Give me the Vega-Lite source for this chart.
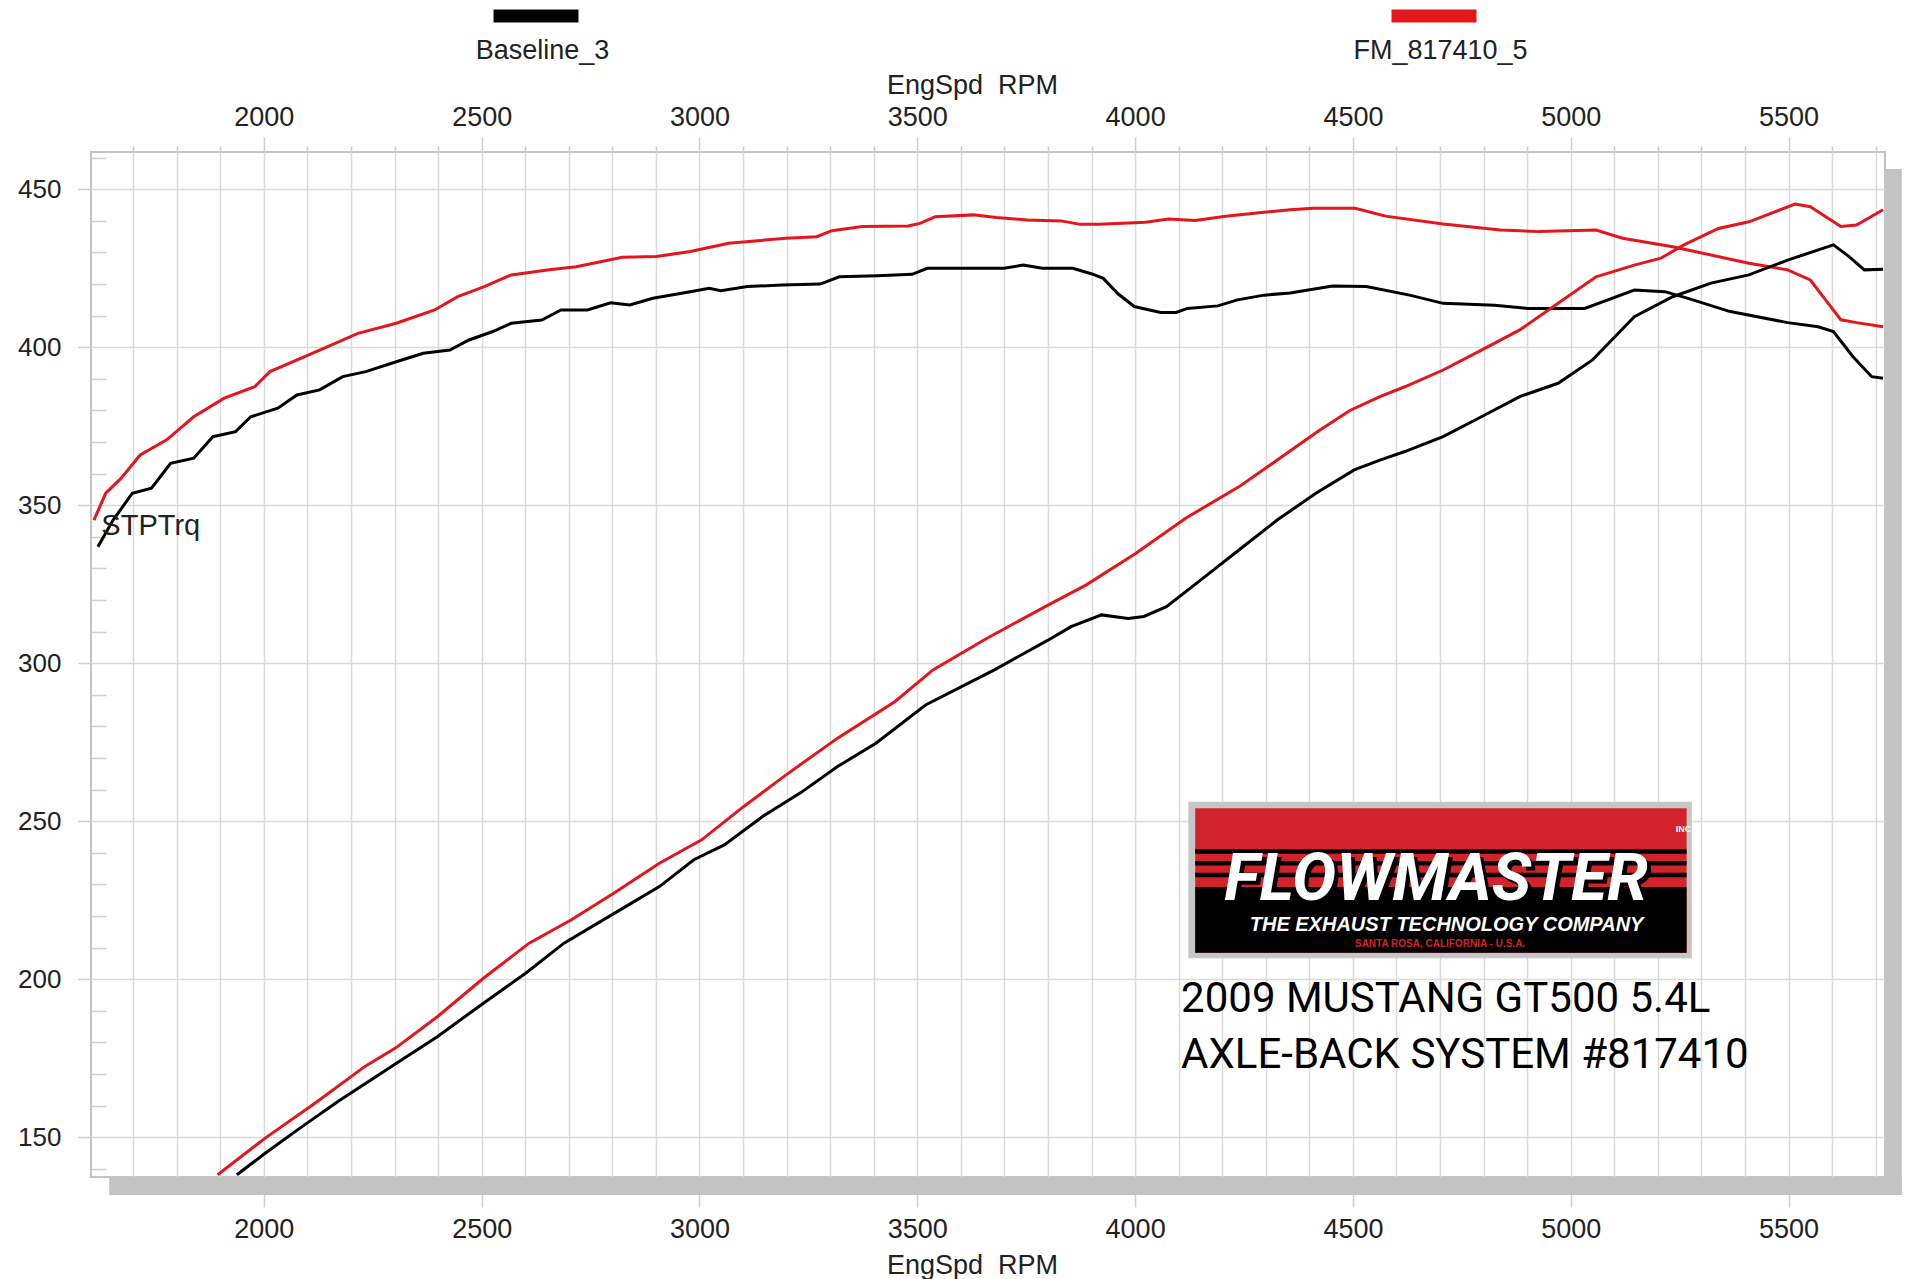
{
"$schema": "https://vega.github.io/schema/vega-lite/v6.json",
"width": 1794, "height": 1025,
"autosize": {"type": "none"},
"padding": {"left": 91, "top": 152, "right": 20, "bottom": 102},
"background": "white",
"config": {
 "view": {"stroke": "#c4c4c4", "strokeWidth": 2},
 "font": "Liberation Sans",
 "axis": {"labelFont": "Liberation Sans", "titleFont": "Liberation Sans", "labelColor": "#222222", "titleColor": "#222222", "titleFontWeight": "normal", "domain": false, "gridColor": "#dadada", "gridWidth": 1.5, "tickColor": "#cfcfcf", "tickWidth": 1.5}
},
"datasets": {
 "dyno": [
{"run":"Baseline_3","curve":"Torque","rpm":1619,"value":336.9},{"run":"Baseline_3","curve":"Torque","rpm":1654,"value":345.3},{"run":"Baseline_3","curve":"Torque","rpm":1698,"value":353.8},{"run":"Baseline_3","curve":"Torque","rpm":1742,"value":355.4},{"run":"Baseline_3","curve":"Torque","rpm":1786,"value":363.3},{"run":"Baseline_3","curve":"Torque","rpm":1839,"value":364.9},{"run":"Baseline_3","curve":"Torque","rpm":1883,"value":371.7},{"run":"Baseline_3","curve":"Torque","rpm":1935,"value":373.3},{"run":"Baseline_3","curve":"Torque","rpm":1970,"value":378},{"run":"Baseline_3","curve":"Torque","rpm":2032,"value":380.7},{"run":"Baseline_3","curve":"Torque","rpm":2076,"value":384.9},{"run":"Baseline_3","curve":"Torque","rpm":2128,"value":386.5},{"run":"Baseline_3","curve":"Torque","rpm":2181,"value":390.7},{"run":"Baseline_3","curve":"Torque","rpm":2234,"value":392.3},{"run":"Baseline_3","curve":"Torque","rpm":2304,"value":395.4},{"run":"Baseline_3","curve":"Torque","rpm":2366,"value":398.1},{"run":"Baseline_3","curve":"Torque","rpm":2427,"value":399.1},{"run":"Baseline_3","curve":"Torque","rpm":2471,"value":402.3},{"run":"Baseline_3","curve":"Torque","rpm":2524,"value":404.9},{"run":"Baseline_3","curve":"Torque","rpm":2568,"value":407.6},{"run":"Baseline_3","curve":"Torque","rpm":2638,"value":408.6},{"run":"Baseline_3","curve":"Torque","rpm":2682,"value":411.8},{"run":"Baseline_3","curve":"Torque","rpm":2743,"value":411.8},{"run":"Baseline_3","curve":"Torque","rpm":2796,"value":414.1},{"run":"Baseline_3","curve":"Torque","rpm":2840,"value":413.4},{"run":"Baseline_3","curve":"Torque","rpm":2893,"value":415.5},{"run":"Baseline_3","curve":"Torque","rpm":2979,"value":417.6},{"run":"Baseline_3","curve":"Torque","rpm":3022,"value":418.7},{"run":"Baseline_3","curve":"Torque","rpm":3049,"value":417.9},{"run":"Baseline_3","curve":"Torque","rpm":3110,"value":419.2},{"run":"Baseline_3","curve":"Torque","rpm":3189,"value":419.7},{"run":"Baseline_3","curve":"Torque","rpm":3277,"value":420},{"run":"Baseline_3","curve":"Torque","rpm":3321,"value":422.3},{"run":"Baseline_3","curve":"Torque","rpm":3409,"value":422.6},{"run":"Baseline_3","curve":"Torque","rpm":3488,"value":423.1},{"run":"Baseline_3","curve":"Torque","rpm":3523,"value":425},{"run":"Baseline_3","curve":"Torque","rpm":3699,"value":425},{"run":"Baseline_3","curve":"Torque","rpm":3743,"value":426},{"run":"Baseline_3","curve":"Torque","rpm":3787,"value":425},{"run":"Baseline_3","curve":"Torque","rpm":3857,"value":425},{"run":"Baseline_3","curve":"Torque","rpm":3901,"value":423.2},{"run":"Baseline_3","curve":"Torque","rpm":3927,"value":421.8},{"run":"Baseline_3","curve":"Torque","rpm":3960,"value":417},{"run":"Baseline_3","curve":"Torque","rpm":3998,"value":412.9},{"run":"Baseline_3","curve":"Torque","rpm":4033,"value":411.8},{"run":"Baseline_3","curve":"Torque","rpm":4059,"value":411},{"run":"Baseline_3","curve":"Torque","rpm":4094,"value":411},{"run":"Baseline_3","curve":"Torque","rpm":4120,"value":412.3},{"run":"Baseline_3","curve":"Torque","rpm":4190,"value":413.1},{"run":"Baseline_3","curve":"Torque","rpm":4235,"value":415},{"run":"Baseline_3","curve":"Torque","rpm":4296,"value":416.5},{"run":"Baseline_3","curve":"Torque","rpm":4356,"value":417.2},{"run":"Baseline_3","curve":"Torque","rpm":4453,"value":419.4},{"run":"Baseline_3","curve":"Torque","rpm":4531,"value":419.2},{"run":"Baseline_3","curve":"Torque","rpm":4630,"value":416.5},{"run":"Baseline_3","curve":"Torque","rpm":4707,"value":413.9},{"run":"Baseline_3","curve":"Torque","rpm":4825,"value":413.3},{"run":"Baseline_3","curve":"Torque","rpm":4900,"value":412.3},{"run":"Baseline_3","curve":"Torque","rpm":5032,"value":412.3},{"run":"Baseline_3","curve":"Torque","rpm":5076,"value":414.5},{"run":"Baseline_3","curve":"Torque","rpm":5146,"value":418.1},{"run":"Baseline_3","curve":"Torque","rpm":5216,"value":417.6},{"run":"Baseline_3","curve":"Torque","rpm":5271,"value":415.4},{"run":"Baseline_3","curve":"Torque","rpm":5366,"value":411.3},{"run":"Baseline_3","curve":"Torque","rpm":5498,"value":407.8},{"run":"Baseline_3","curve":"Torque","rpm":5568,"value":406.5},{"run":"Baseline_3","curve":"Torque","rpm":5603,"value":405},{"run":"Baseline_3","curve":"Torque","rpm":5648,"value":397},{"run":"Baseline_3","curve":"Torque","rpm":5691,"value":390.7},{"run":"Baseline_3","curve":"Torque","rpm":5717,"value":390.2},
{"run":"FM_817410_5","curve":"Torque","rpm":1610,"value":345.3},{"run":"FM_817410_5","curve":"Torque","rpm":1637,"value":353.8},{"run":"FM_817410_5","curve":"Torque","rpm":1672,"value":358.5},{"run":"FM_817410_5","curve":"Torque","rpm":1716,"value":365.9},{"run":"FM_817410_5","curve":"Torque","rpm":1777,"value":370.7},{"run":"FM_817410_5","curve":"Torque","rpm":1839,"value":378},{"run":"FM_817410_5","curve":"Torque","rpm":1909,"value":383.9},{"run":"FM_817410_5","curve":"Torque","rpm":1979,"value":387.5},{"run":"FM_817410_5","curve":"Torque","rpm":2014,"value":392.3},{"run":"FM_817410_5","curve":"Torque","rpm":2111,"value":398.1},{"run":"FM_817410_5","curve":"Torque","rpm":2216,"value":404.4},{"run":"FM_817410_5","curve":"Torque","rpm":2304,"value":407.6},{"run":"FM_817410_5","curve":"Torque","rpm":2392,"value":411.8},{"run":"FM_817410_5","curve":"Torque","rpm":2445,"value":416},{"run":"FM_817410_5","curve":"Torque","rpm":2506,"value":419.2},{"run":"FM_817410_5","curve":"Torque","rpm":2568,"value":422.9},{"run":"FM_817410_5","curve":"Torque","rpm":2655,"value":424.5},{"run":"FM_817410_5","curve":"Torque","rpm":2717,"value":425.5},{"run":"FM_817410_5","curve":"Torque","rpm":2823,"value":428.5},{"run":"FM_817410_5","curve":"Torque","rpm":2901,"value":428.7},{"run":"FM_817410_5","curve":"Torque","rpm":2979,"value":430.3},{"run":"FM_817410_5","curve":"Torque","rpm":3067,"value":432.9},{"run":"FM_817410_5","curve":"Torque","rpm":3198,"value":434.5},{"run":"FM_817410_5","curve":"Torque","rpm":3269,"value":435},{"run":"FM_817410_5","curve":"Torque","rpm":3304,"value":436.9},{"run":"FM_817410_5","curve":"Torque","rpm":3374,"value":438.2},{"run":"FM_817410_5","curve":"Torque","rpm":3479,"value":438.4},{"run":"FM_817410_5","curve":"Torque","rpm":3506,"value":439.2},{"run":"FM_817410_5","curve":"Torque","rpm":3541,"value":441.3},{"run":"FM_817410_5","curve":"Torque","rpm":3629,"value":441.9},{"run":"FM_817410_5","curve":"Torque","rpm":3681,"value":441.1},{"run":"FM_817410_5","curve":"Torque","rpm":3752,"value":440.3},{"run":"FM_817410_5","curve":"Torque","rpm":3830,"value":440},{"run":"FM_817410_5","curve":"Torque","rpm":3874,"value":438.9},{"run":"FM_817410_5","curve":"Torque","rpm":3918,"value":438.9},{"run":"FM_817410_5","curve":"Torque","rpm":4024,"value":439.6},{"run":"FM_817410_5","curve":"Torque","rpm":4077,"value":440.6},{"run":"FM_817410_5","curve":"Torque","rpm":4138,"value":440.1},{"run":"FM_817410_5","curve":"Torque","rpm":4208,"value":441.5},{"run":"FM_817410_5","curve":"Torque","rpm":4296,"value":442.7},{"run":"FM_817410_5","curve":"Torque","rpm":4356,"value":443.5},{"run":"FM_817410_5","curve":"Torque","rpm":4408,"value":444},{"run":"FM_817410_5","curve":"Torque","rpm":4505,"value":444},{"run":"FM_817410_5","curve":"Torque","rpm":4575,"value":441.5},{"run":"FM_817410_5","curve":"Torque","rpm":4707,"value":439},{"run":"FM_817410_5","curve":"Torque","rpm":4839,"value":437.1},{"run":"FM_817410_5","curve":"Torque","rpm":4927,"value":436.6},{"run":"FM_817410_5","curve":"Torque","rpm":5058,"value":437.1},{"run":"FM_817410_5","curve":"Torque","rpm":5119,"value":434.5},{"run":"FM_817410_5","curve":"Torque","rpm":5234,"value":431.8},{"run":"FM_817410_5","curve":"Torque","rpm":5322,"value":429.2},{"run":"FM_817410_5","curve":"Torque","rpm":5409,"value":426.6},{"run":"FM_817410_5","curve":"Torque","rpm":5498,"value":424.5},{"run":"FM_817410_5","curve":"Torque","rpm":5550,"value":421.3},{"run":"FM_817410_5","curve":"Torque","rpm":5585,"value":415},{"run":"FM_817410_5","curve":"Torque","rpm":5620,"value":408.7},{"run":"FM_817410_5","curve":"Torque","rpm":5656,"value":407.8},{"run":"FM_817410_5","curve":"Torque","rpm":5717,"value":406.5},
{"run":"FM_817410_5","curve":"Power","rpm":1894,"value":138.1},{"run":"FM_817410_5","curve":"Power","rpm":2003,"value":149.7},{"run":"FM_817410_5","curve":"Power","rpm":2118,"value":160.8},{"run":"FM_817410_5","curve":"Power","rpm":2232,"value":172.4},{"run":"FM_817410_5","curve":"Power","rpm":2302,"value":178.2},{"run":"FM_817410_5","curve":"Power","rpm":2399,"value":188.2},{"run":"FM_817410_5","curve":"Power","rpm":2504,"value":200.3},{"run":"FM_817410_5","curve":"Power","rpm":2609,"value":211.4},{"run":"FM_817410_5","curve":"Power","rpm":2706,"value":218.8},{"run":"FM_817410_5","curve":"Power","rpm":2803,"value":227.2},{"run":"FM_817410_5","curve":"Power","rpm":2908,"value":236.7},{"run":"FM_817410_5","curve":"Power","rpm":3005,"value":244.1},{"run":"FM_817410_5","curve":"Power","rpm":3101,"value":254.6},{"run":"FM_817410_5","curve":"Power","rpm":3198,"value":264.6},{"run":"FM_817410_5","curve":"Power","rpm":3317,"value":276.3},{"run":"FM_817410_5","curve":"Power","rpm":3449,"value":287.9},{"run":"FM_817410_5","curve":"Power","rpm":3536,"value":297.9},{"run":"FM_817410_5","curve":"Power","rpm":3660,"value":307.9},{"run":"FM_817410_5","curve":"Power","rpm":3800,"value":318.4},{"run":"FM_817410_5","curve":"Power","rpm":3888,"value":324.8},{"run":"FM_817410_5","curve":"Power","rpm":4002,"value":334.8},{"run":"FM_817410_5","curve":"Power","rpm":4116,"value":345.9},{"run":"FM_817410_5","curve":"Power","rpm":4239,"value":355.9},{"run":"FM_817410_5","curve":"Power","rpm":4354,"value":367},{"run":"FM_817410_5","curve":"Power","rpm":4421,"value":373.5},{"run":"FM_817410_5","curve":"Power","rpm":4493,"value":380},{"run":"FM_817410_5","curve":"Power","rpm":4562,"value":384.4},{"run":"FM_817410_5","curve":"Power","rpm":4619,"value":387.5},{"run":"FM_817410_5","curve":"Power","rpm":4707,"value":392.8},{"run":"FM_817410_5","curve":"Power","rpm":4795,"value":399.1},{"run":"FM_817410_5","curve":"Power","rpm":4883,"value":405.5},{"run":"FM_817410_5","curve":"Power","rpm":4971,"value":413.9},{"run":"FM_817410_5","curve":"Power","rpm":5058,"value":422.3},{"run":"FM_817410_5","curve":"Power","rpm":5146,"value":426},{"run":"FM_817410_5","curve":"Power","rpm":5207,"value":428.2},{"run":"FM_817410_5","curve":"Power","rpm":5260,"value":432.4},{"run":"FM_817410_5","curve":"Power","rpm":5339,"value":437.6},{"run":"FM_817410_5","curve":"Power","rpm":5409,"value":439.7},{"run":"FM_817410_5","curve":"Power","rpm":5515,"value":445.3},{"run":"FM_817410_5","curve":"Power","rpm":5550,"value":444.5},{"run":"FM_817410_5","curve":"Power","rpm":5620,"value":438.2},{"run":"FM_817410_5","curve":"Power","rpm":5656,"value":438.7},{"run":"FM_817410_5","curve":"Power","rpm":5717,"value":443.5},
{"run":"Baseline_3","curve":"Power","rpm":1938,"value":138.1},{"run":"Baseline_3","curve":"Power","rpm":2003,"value":144.9},{"run":"Baseline_3","curve":"Power","rpm":2082,"value":152.8},{"run":"Baseline_3","curve":"Power","rpm":2170,"value":161.3},{"run":"Baseline_3","curve":"Power","rpm":2293,"value":172.4},{"run":"Baseline_3","curve":"Power","rpm":2399,"value":181.9},{"run":"Baseline_3","curve":"Power","rpm":2504,"value":192.4},{"run":"Baseline_3","curve":"Power","rpm":2601,"value":201.9},{"run":"Baseline_3","curve":"Power","rpm":2689,"value":211.4},{"run":"Baseline_3","curve":"Power","rpm":2811,"value":221.4},{"run":"Baseline_3","curve":"Power","rpm":2908,"value":229.3},{"run":"Baseline_3","curve":"Power","rpm":2987,"value":237.8},{"run":"Baseline_3","curve":"Power","rpm":3057,"value":242.5},{"run":"Baseline_3","curve":"Power","rpm":3145,"value":251.5},{"run":"Baseline_3","curve":"Power","rpm":3231,"value":258.9},{"run":"Baseline_3","curve":"Power","rpm":3317,"value":267.3},{"run":"Baseline_3","curve":"Power","rpm":3405,"value":274.7},{"run":"Baseline_3","curve":"Power","rpm":3519,"value":286.8},{"run":"Baseline_3","curve":"Power","rpm":3677,"value":297.9},{"run":"Baseline_3","curve":"Power","rpm":3800,"value":307.3},{"run":"Baseline_3","curve":"Power","rpm":3853,"value":311.6},{"run":"Baseline_3","curve":"Power","rpm":3923,"value":315.3},{"run":"Baseline_3","curve":"Power","rpm":3984,"value":314.2},{"run":"Baseline_3","curve":"Power","rpm":4020,"value":314.8},{"run":"Baseline_3","curve":"Power","rpm":4072,"value":317.9},{"run":"Baseline_3","curve":"Power","rpm":4151,"value":326.4},{"run":"Baseline_3","curve":"Power","rpm":4239,"value":335.9},{"run":"Baseline_3","curve":"Power","rpm":4327,"value":345.4},{"run":"Baseline_3","curve":"Power","rpm":4415,"value":353.8},{"run":"Baseline_3","curve":"Power","rpm":4503,"value":361.2},{"run":"Baseline_3","curve":"Power","rpm":4562,"value":364.3},{"run":"Baseline_3","curve":"Power","rpm":4619,"value":367},{"run":"Baseline_3","curve":"Power","rpm":4707,"value":371.7},{"run":"Baseline_3","curve":"Power","rpm":4795,"value":378},{"run":"Baseline_3","curve":"Power","rpm":4883,"value":384.4},{"run":"Baseline_3","curve":"Power","rpm":4971,"value":388.6},{"run":"Baseline_3","curve":"Power","rpm":5050,"value":396},{"run":"Baseline_3","curve":"Power","rpm":5102,"value":403.4},{"run":"Baseline_3","curve":"Power","rpm":5146,"value":409.7},{"run":"Baseline_3","curve":"Power","rpm":5234,"value":416},{"run":"Baseline_3","curve":"Power","rpm":5322,"value":420.3},{"run":"Baseline_3","curve":"Power","rpm":5409,"value":422.9},{"run":"Baseline_3","curve":"Power","rpm":5498,"value":427.6},{"run":"Baseline_3","curve":"Power","rpm":5603,"value":432.4},{"run":"Baseline_3","curve":"Power","rpm":5639,"value":428.7},{"run":"Baseline_3","curve":"Power","rpm":5674,"value":424.5},{"run":"Baseline_3","curve":"Power","rpm":5717,"value":424.7}
 ]
},
"resolve": {"axis": {"x": "independent", "y": "independent"}},
"layer": [
 {"data": {"values": [{}]}, "mark": {"type": "rect", "color": "#c3c3c3", "clip": false},
  "encoding": {"x": {"datum": 1645, "type": "quantitative", "axis": null}, "x2": {"datum": 5760}, "y": {"datum": 131.7, "type": "quantitative", "axis": null}, "y2": {"datum": 137.4}}},
 {"data": {"values": [{}]}, "mark": {"type": "rect", "color": "#c3c3c3", "clip": false},
  "encoding": {"x": {"datum": 5723, "type": "quantitative", "axis": null}, "x2": {"datum": 5760}, "y": {"datum": 131.7, "type": "quantitative", "axis": null}, "y2": {"datum": 456.4}}},
 {"data": {"name": "dyno"}, "mark": {"type": "line", "strokeWidth": 3, "clip": true, "interpolate": "linear"},
  "encoding": {
   "x": {"field": "rpm", "type": "quantitative", "scale": {"domain": [1603.2, 5721.4], "nice": false, "zero": false},
     "axis": {"orient": "bottom", "values": [1700,1800,1900,2000,2100,2200,2300,2400,2500,2600,2700,2800,2900,3000,3100,3200,3300,3400,3500,3600,3700,3800,3900,4000,4100,4200,4300,4400,4500,4600,4700,4800,4900,5000,5100,5200,5300,5400,5500,5600,5700],
      "format": "d", "labelExpr": "datum.value % 500 === 0 ? datum.label : ''", "labelOverlap": false, "labelFlush": false,
      "tickSize": {"condition": {"test": "datum.value % 500 === 0", "value": 30}, "value": 0},
      "labelPadding": 9, "labelFontSize": 27, "title": "EngSpd\u00a0 RPM", "titleFontSize": 27, "titlePadding": 10, "titleX": 881, "grid": true}},
   "y": {"field": "value", "type": "quantitative", "scale": {"domain": [137.4, 461.8], "nice": false, "zero": false},
     "axis": {"orient": "left", "values": [140,150,160,170,180,190,200,210,220,230,240,250,260,270,280,290,300,310,320,330,340,350,360,370,380,390,400,410,420,430,440,450,460],
      "format": "d", "labelExpr": "datum.value % 50 === 0 ? datum.label : ''", "labelOverlap": false, "labelFlush": false,
      "gridOpacity": {"condition": {"test": "datum.value % 50 === 0", "value": 1}, "value": 0},
      "tickSize": {"condition": {"test": "datum.value % 50 === 0", "value": 13}, "value": -15},
      "labelPadding": 17, "labelFontSize": 26, "title": null, "grid": true}},
   "color": {"field": "run", "type": "nominal", "scale": {"domain": ["Baseline_3", "FM_817410_5"], "range": ["#000000", "#e3161c"]},
     "legend": {"orient": "none", "legendX": 396, "legendY": -185, "direction": "horizontal", "title": null, "padding": 0,
      "symbolType": "M-1,0L1,0", "symbolSize": 7225, "symbolStrokeWidth": 13,
      "labelAlign": "center", "labelOffset": -42.5, "labelFontSize": 27, "labelFont": "Liberation Sans", "labelColor": "#222222", "labelLimit": 400,
      "columnPadding": 743,
      "encode": {"labels": {"update": {"dy": {"value": 35}}}}}},
   "detail": {"field": "curve", "type": "nominal"}
  }},
 {"data": {"values": [{}]}, "mark": {"type": "text", "text": "STPTrq", "align": "left", "baseline": "alphabetic", "fontSize": 29, "font": "Liberation Sans", "color": "#222222"},
  "encoding": {
   "x": {"datum": 1627, "type": "quantitative",
     "axis": {"orient": "top", "values": [1700,1800,1900,2000,2100,2200,2300,2400,2500,2600,2700,2800,2900,3000,3100,3200,3300,3400,3500,3600,3700,3800,3900,4000,4100,4200,4300,4400,4500,4600,4700,4800,4900,5000,5100,5200,5300,5400,5500,5600,5700],
      "format": "d", "labelExpr": "datum.value % 500 === 0 ? datum.label : ''", "labelOverlap": false, "labelFlush": false,
      "tickSize": {"condition": {"test": "datum.value % 500 === 0", "value": 15}, "value": 6},
      "labelPadding": 6, "labelFontSize": 27, "title": "EngSpd\u00a0 RPM", "titleFontSize": 27, "titlePadding": 4, "titleX": 881, "grid": false}},
   "y": {"datum": 340.6, "type": "quantitative", "axis": null}}},
 {"data": {"values": [{}]}, "mark": {"type": "rect", "color": "#c6c6c6"},
  "encoding": {"x": {"datum": 4122, "type": "quantitative", "axis": null}, "x2": {"datum": 5278}, "y": {"datum": 206.6, "type": "quantitative", "axis": null}, "y2": {"datum": 256.2}}},
 {"data": {"values": [{}]}, "mark": {"type": "rect", "color": "#d2232a"},
  "encoding": {"x": {"datum": 4138, "type": "quantitative", "axis": null}, "x2": {"datum": 5266}, "y": {"datum": 208.4, "type": "quantitative", "axis": null}, "y2": {"datum": 254.1}}},
 {"data": {"values": [{}]}, "mark": {"type": "rect", "color": "#000000"},
  "encoding": {"x": {"datum": 4138, "type": "quantitative", "axis": null}, "x2": {"datum": 5266}, "y": {"datum": 208.4, "type": "quantitative", "axis": null}, "y2": {"datum": 229.2}}},
 {"data": {"values": [{}]}, "mark": {"type": "rect", "color": "#000000"},
  "encoding": {"x": {"datum": 4138, "type": "quantitative", "axis": null}, "x2": {"datum": 5266}, "y": {"datum": 232.3, "type": "quantitative", "axis": null}, "y2": {"datum": 233.7}}},
 {"data": {"values": [{}]}, "mark": {"type": "rect", "color": "#000000"},
  "encoding": {"x": {"datum": 4138, "type": "quantitative", "axis": null}, "x2": {"datum": 5266}, "y": {"datum": 236.0, "type": "quantitative", "axis": null}, "y2": {"datum": 237.4}}},
 {"data": {"values": [{}]}, "mark": {"type": "rect", "color": "#000000"},
  "encoding": {"x": {"datum": 4138, "type": "quantitative", "axis": null}, "x2": {"datum": 5266}, "y": {"datum": 239.7, "type": "quantitative", "axis": null}, "y2": {"datum": 241.1}}},
 {"data": {"values": [{}]}, "mark": {"type": "text", "text": "FLOWMASTER", "align": "center", "baseline": "alphabetic", "fontSize": 66, "fontStyle": "italic", "fontWeight": "bold", "font": "Roboto", "color": "#000000", "dx": 4, "dy": 4},
  "encoding": {"x": {"datum": 4691, "type": "quantitative", "axis": null}, "y": {"datum": 225.1, "type": "quantitative", "axis": null}}},
 {"data": {"values": [{}]}, "mark": {"type": "text", "text": "FLOWMASTER", "align": "center", "baseline": "alphabetic", "fontSize": 66, "fontStyle": "italic", "fontWeight": "bold", "font": "Roboto", "color": "#ffffff"},
  "encoding": {"x": {"datum": 4691, "type": "quantitative", "axis": null}, "y": {"datum": 225.1, "type": "quantitative", "axis": null}}},
 {"data": {"values": [{}]}, "mark": {"type": "text", "text": "INC.", "align": "center", "baseline": "alphabetic", "fontSize": 9, "fontWeight": "bold", "font": "Liberation Sans", "color": "#ffffff"},
  "encoding": {"x": {"datum": 5262, "type": "quantitative", "axis": null}, "y": {"datum": 246.6, "type": "quantitative", "axis": null}}},
 {"data": {"values": [{}]}, "mark": {"type": "text", "text": "THE EXHAUST TECHNOLOGY COMPANY", "align": "center", "baseline": "alphabetic", "fontSize": 20, "fontStyle": "italic", "fontWeight": "bold", "font": "Liberation Sans", "color": "#ffffff"},
  "encoding": {"x": {"datum": 4715, "type": "quantitative", "axis": null}, "y": {"datum": 215.1, "type": "quantitative", "axis": null}}},
 {"data": {"values": [{}]}, "mark": {"type": "text", "text": "SANTA ROSA, CALIFORNIA - U.S.A.", "align": "center", "baseline": "alphabetic", "fontSize": 10, "fontWeight": "bold", "font": "Liberation Sans", "color": "#d2232a"},
  "encoding": {"x": {"datum": 4700, "type": "quantitative", "axis": null}, "y": {"datum": 210.2, "type": "quantitative", "axis": null}}},
 {"data": {"values": [{}]}, "mark": {"type": "text", "text": "2009 MUSTANG GT500 5.4L", "align": "left", "baseline": "alphabetic", "fontSize": 42, "font": "Roboto", "color": "#000000"},
  "encoding": {"x": {"datum": 4105.6, "type": "quantitative", "axis": null}, "y": {"datum": 189.7, "type": "quantitative", "axis": null}}},
 {"data": {"values": [{}]}, "mark": {"type": "text", "text": "AXLE-BACK SYSTEM #817410", "align": "left", "baseline": "alphabetic", "fontSize": 42, "font": "Roboto", "color": "#000000"},
  "encoding": {"x": {"datum": 4105.6, "type": "quantitative", "axis": null}, "y": {"datum": 171.9, "type": "quantitative", "axis": null}}}
]
}
